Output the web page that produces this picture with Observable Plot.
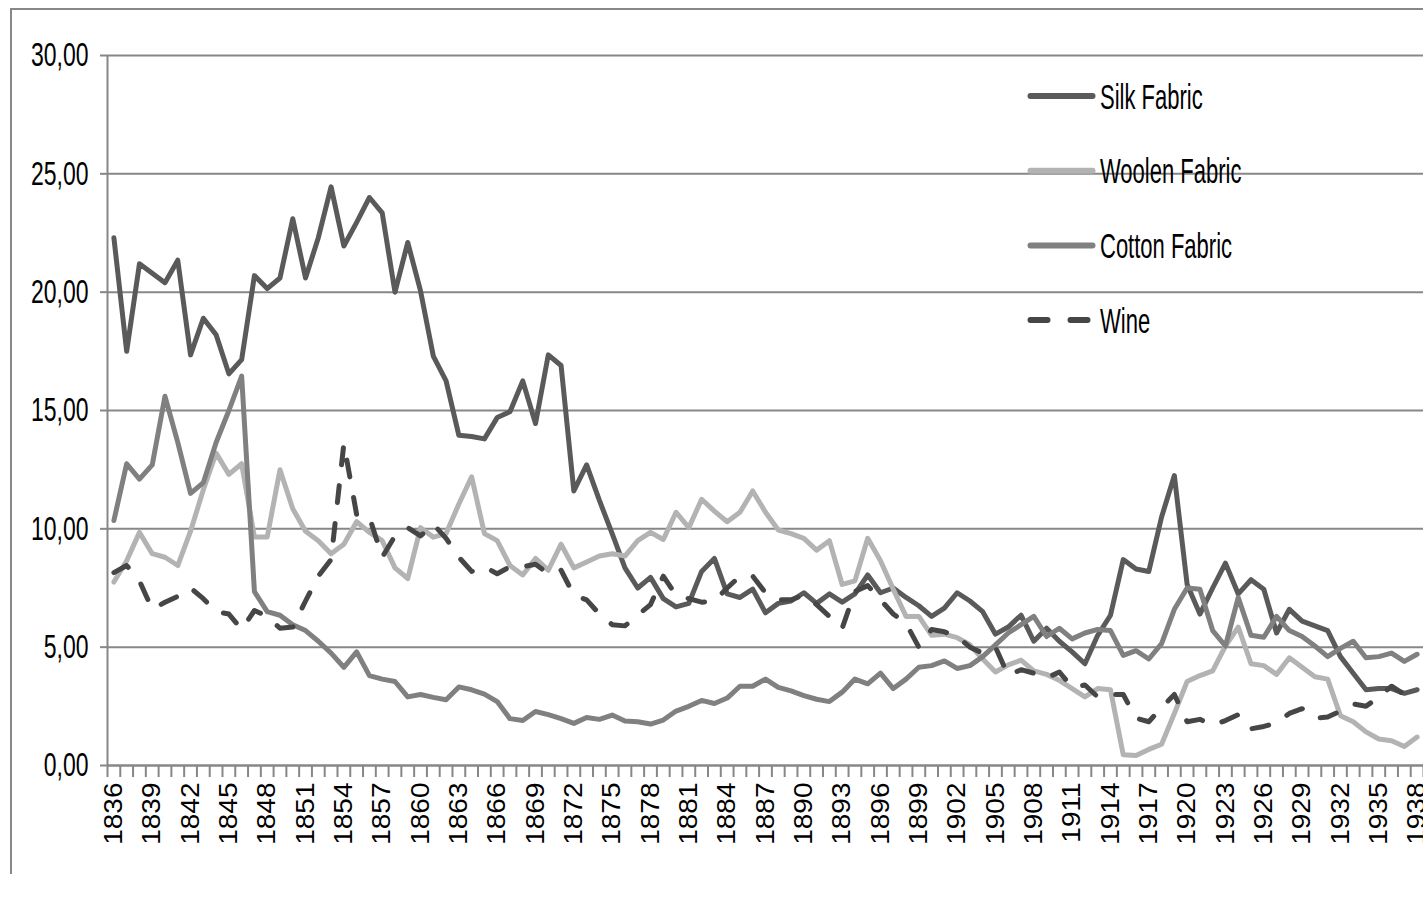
<!DOCTYPE html>
<html><head><meta charset="utf-8">
<script src="https://cdn.jsdelivr.net/npm/d3@7"></script>
<script src="https://cdn.jsdelivr.net/npm/@observablehq/plot@0.6"></script>
<style>
html,body{margin:0;padding:0;background:#fff;overflow:hidden;width:1423px;height:898px;}
#wrap{position:relative;width:1423px;height:898px;overflow:hidden;}
#chart{position:absolute;left:0;top:0;width:1440px;}
#chart svg{max-width:none !important;}
#frame{position:absolute;left:10px;top:8px;width:1500px;height:866px;border:2px solid #888;border-bottom:none;box-sizing:border-box;pointer-events:none;}
#legend{position:absolute;left:0;top:0;}
</style></head>
<body><div id="wrap"><div id="chart"></div><div id="frame"></div><svg id="legend" width="1423" height="898"></svg></div>
<script>
const years = d3.range(1836, 1939);
const seriesNames = ["Silk Fabric", "Woolen Fabric", "Cotton Fabric", "Wine"];
const silk = [
 22.3, 17.5, 21.2, 20.8, 20.4, 21.35, 17.35, 18.9, 18.2, 16.55,
 17.15, 20.7, 20.15, 20.6, 23.1, 20.6, 22.3, 24.45, 21.95, 22.95,
 24.0, 23.35, 20.0, 22.1, 20.05, 17.3, 16.25, 13.95, 13.9, 13.8,
 14.7, 14.95, 16.25, 14.45, 17.35, 16.9, 11.6, 12.7, 11.2, 9.8,
 8.35, 7.5, 7.95, 7.05, 6.7, 6.85, 8.2, 8.75, 7.25, 7.1,
 7.45, 6.45, 6.85, 6.95, 7.3, 6.85, 7.25, 6.9, 7.25, 8.05,
 7.3, 7.5, 7.1, 6.75, 6.3, 6.65, 7.3, 6.95, 6.5, 5.55,
 5.85, 6.35, 5.25, 5.8, 5.25, 4.8, 4.3, 5.5, 6.35, 8.7,
 8.3, 8.2, 10.5, 12.25, 7.65, 6.4, 7.5, 8.55, 7.25, 7.85,
 7.45, 5.6, 6.6, 6.1, 5.9, 5.7, 4.6, 3.9, 3.2, 3.25,
 3.25, 3.05, 3.2];
const woolen = [
 7.75, 8.65, 9.85, 8.95, 8.8, 8.45, 9.9, 11.65, 13.2, 12.3,
 12.75, 9.65, 9.65, 12.5, 10.85, 9.9, 9.5, 8.95, 9.35, 10.3,
 9.85, 9.5, 8.35, 7.9, 10.05, 9.65, 9.8, 11.05, 12.2, 9.8,
 9.5, 8.45, 8.05, 8.75, 8.25, 9.35, 8.35, 8.6, 8.85, 8.95,
 8.85, 9.5, 9.85, 9.55, 10.7, 10.05, 11.25, 10.75, 10.3, 10.7,
 11.6, 10.7, 9.95, 9.8, 9.6, 9.1, 9.5, 7.65, 7.8, 9.6,
 8.65, 7.45, 6.3, 6.3, 5.5, 5.55, 5.4, 5.1, 4.5, 3.95,
 4.25, 4.45, 4.0, 3.85, 3.6, 3.25, 2.9, 3.25, 3.2, 0.45,
 0.42, 0.68, 0.9, 2.2, 3.55, 3.8, 4.0, 5.05, 5.85, 4.3,
 4.22, 3.85, 4.55, 4.15, 3.75, 3.65, 2.1, 1.85, 1.42, 1.12,
 1.05, 0.8, 1.2];
const cotton = [
 10.35, 12.75, 12.1, 12.7, 15.6, 13.65, 11.5, 11.95, 13.65, 15.0,
 16.45, 7.35, 6.5, 6.35, 5.95, 5.7, 5.25, 4.75, 4.15, 4.8,
 3.8, 3.65, 3.55, 2.9, 3.0, 2.88, 2.78, 3.32, 3.2, 3.02,
 2.7, 1.98, 1.9, 2.28, 2.15, 1.98, 1.78, 2.03, 1.95, 2.13,
 1.88, 1.85, 1.75, 1.92, 2.3, 2.5, 2.75, 2.62, 2.85, 3.35,
 3.35, 3.65, 3.3, 3.15, 2.95, 2.8, 2.7, 3.1, 3.65, 3.45,
 3.9, 3.25, 3.65, 4.15, 4.22, 4.42, 4.1, 4.22, 4.6, 5.1,
 5.6, 5.95, 6.3, 5.45, 5.8, 5.35, 5.6, 5.75, 5.7, 4.65,
 4.85, 4.5, 5.15, 6.6, 7.5, 7.45, 5.7, 5.05, 7.1, 5.5,
 5.42, 6.3, 5.7, 5.45, 5.05, 4.6, 4.95, 5.25, 4.55, 4.6,
 4.75, 4.4, 4.7];
const wine = [
 8.15, 8.45, 7.8, 6.6, 6.9, 7.15, 7.5, 7.05, 6.5, 6.4,
 5.75, 6.55, 6.3, 5.8, 5.85, 6.95, 8.0, 8.7, 13.6, 10.6,
 10.5, 8.8, 9.7, 10.05, 9.7, 10.2, 9.6, 8.8, 8.2, 8.4,
 8.1, 8.4, 8.4, 8.5, 8.1, 8.25, 7.2, 7.0, 6.4, 5.95,
 5.9, 6.35, 6.8, 8.0, 7.2, 7.05, 6.9, 6.95, 7.5, 8.0,
 8.0, 7.3, 7.0, 7.0, 7.2, 6.8, 6.3, 5.8, 7.35, 7.6,
 7.0, 6.4, 6.0, 5.0, 5.75, 5.65, 5.45, 5.0, 4.75, 5.0,
 3.8, 4.05, 3.9, 3.7, 3.95, 3.3, 3.4, 2.9, 3.0, 3.0,
 2.0, 1.85, 2.45, 3.0, 1.85, 1.95, 1.7, 1.9, 2.15, 1.55,
 1.65, 1.8, 2.2, 2.4, 2.0, 2.05, 2.3, 2.6, 2.5, 2.9,
 3.35, 3.0, 2.8];
const yTicks = [0, 5, 10, 15, 20, 25, 30];
const labelYears = d3.range(1836, 1939, 3);
const tickBounds = d3.range(1835.5, 1939, 1);

const seriesKeys = ["silk", "woolen", "cotton", "wine"];
const seriesColors = ["#5a5a5a", "#b3b3b3", "#808080", "#464646"];
const seriesDash = [null, null, null, "17,21"];

const table = years.map((year, i) => ({year, silk: silk[i], woolen: woolen[i], cotton: cotton[i], wine: wine[i]}));
const axisGray = "#878787";
const font = "'Liberation Sans', Arial, sans-serif";

const chart = Plot.plot({
  width: 1440, height: 898,
  marginLeft: 107, marginRight: 17, marginTop: 55, marginBottom: 133,
  style: {background: "transparent", fontFamily: font, color: "#000", overflow: "visible", maxWidth: "none"},
  x: {type: "linear", domain: [1835.5, 1938.5]},
  y: {domain: [0, 30]},
  marks: [
    Plot.gridY(yTicks, {stroke: axisGray, strokeOpacity: 1, strokeWidth: 2}),
    Plot.ruleX([1835.5], {stroke: axisGray, strokeWidth: 2}),
    Plot.ruleY([0], {stroke: axisGray, strokeWidth: 2}),
    Plot.axisY(yTicks, {tickSize: 7, tickPadding: 12, tickFormat: d => d.toFixed(2).replace(".", ","), fontSize: 23, stroke: axisGray, strokeWidth: 2, label: null}),
    Plot.axisX(tickBounds, {tickSize: 12, tickFormat: () => "", stroke: axisGray, strokeWidth: 2, label: null}),
    Plot.axisX(labelYears, {tickSize: 0, tickPadding: 17, tickRotate: -90, tickFormat: d => String(d), fontSize: 28, label: null}),
    ...seriesKeys.map((k, i) => Plot.line(table, {
      x: "year", y: k, stroke: seriesColors[i], strokeWidth: 5,
      strokeLinejoin: "round", strokeLinecap: "round",
      ...(seriesDash[i] ? {strokeDasharray: seriesDash[i]} : {})
    }))
  ]
});
chart.style.maxWidth = "none";
document.getElementById("chart").appendChild(chart);

function scaleText(sel, sx, sy) {
  sel.each(function () {
    let t = this.getAttribute("transform");
    if (!t) {
      const x = parseFloat(this.getAttribute("x")) || 0;
      const y = this.getAttribute("y");
      const yn = y && !/em$/.test(y) ? parseFloat(y) : 0;
      this.removeAttribute("x");
      if (y && !/em$/.test(y)) this.removeAttribute("y");
      t = `translate(${x},${yn})`;
    }
    this.setAttribute("transform", t + ` scale(${sx},${sy})`);
  });
}
scaleText(d3.select(chart).selectAll('g[aria-label="y-axis tick label"] text'), 1, 1.45);
scaleText(d3.select(chart).selectAll('g[aria-label="x-axis tick label"] text'), 1, 0.92);

// legend
const leg = d3.select("#legend");
const legY0 = 96, legDy = 74.7;
seriesNames.forEach((name, i) => {
  const y = legY0 + i * legDy;
  leg.append("line")
    .attr("x1", 1030.5).attr("x2", 1092.5).attr("y1", y).attr("y2", y)
    .attr("stroke", seriesColors[i]).attr("stroke-width", 6)
    .attr("stroke-linecap", "round")
    .attr("stroke-dasharray", seriesDash[i] ? "17,23" : null);
  leg.append("text")
    .attr("transform", `translate(1100,${y}) scale(1,1.6)`)
    .attr("y", "0.36em")
    .attr("font-family", font).attr("font-size", 22).attr("fill", "#000")
    .text(name);
});
</script></body></html>
